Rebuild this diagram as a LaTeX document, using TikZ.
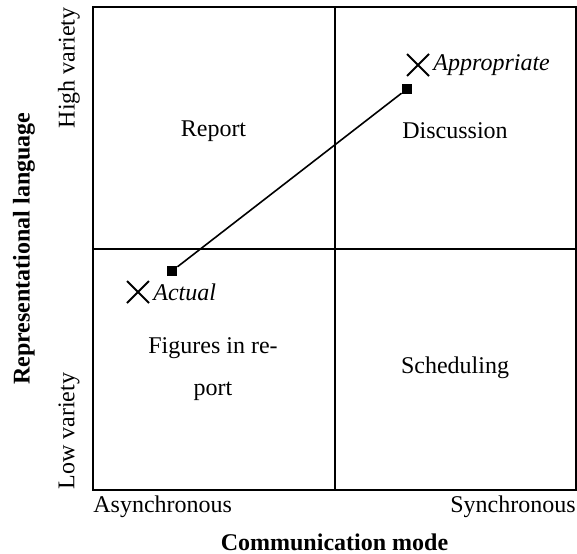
\documentclass[tikz,border=0pt]{standalone}
\usepackage{fontspec}
\setmainfont{Liberation Serif}
\usetikzlibrary{positioning, shapes.misc}

\begin{document}
\begin{tikzpicture}[
    x=0.5pt, y=0.5pt,
    every node/.style={font=\fontsize{12}{14}\selectfont},
    grid/.style={line width=1pt},
    quad/.style={align=center, font=\fontsize{12}{21}\selectfont},
    marker/.style={rectangle, fill=black, inner sep=0pt, minimum size=5pt},
    xmark/.style={cross out, draw=black, line width=1pt, inner sep=0pt, minimum size=10pt},
    tag/.style={font=\fontsize{12}{14}\selectfont\itshape, inner sep=1pt},
    axis/.style={font=\fontsize{12}{14}\selectfont\bfseries},
]
\useasboundingbox (0,0) rectangle (577,553);

% ---- Quadrant grid ----
\draw[grid] (93,63) rectangle (576,546);
\draw[grid] (334.5,63) -- (334.5,546);
\draw[grid] (93,304.5) -- (576,304.5);

% ---- Quadrant labels ----
\node[quad] (report) at (213.5,422) {Report};
\node[quad] (disc)   at (455,422)   {Discussion};
\node[quad] (figs)   at (213,184)   {Figures in re-\\port};
\node[quad] (sched)  at (455,185)   {Scheduling};

% ---- Actual / appropriate ----
\node[marker] (actsq) at (172,282) {};
\node[marker] (appsq) at (407,464) {};
\draw[line width=0.8pt] (actsq) -- (appsq);

\node[xmark] (actx) at (138,261) {};
\node[tag, right=1pt of actx] (actual) {Actual};
\node[xmark] (appx) at (418,488) {};
\node[tag, right=1pt of appx] (approp) {Appropriate};

% ---- Horizontal axis ----
\node[anchor=west, inner sep=0pt] (async) at (93,46) {Asynchronous};
\node[anchor=east, inner sep=0pt] (sync)  at (576,46) {Synchronous};
\node[axis] (xaxis) at (334.5,11) {Communication mode};

% ---- Vertical axis ----
\node[axis, rotate=90] (yaxis) at (24,304.5) {Representational language};
\node[rotate=90, anchor=east, inner sep=0pt] (high) at (69,546) {High variety};
\node[rotate=90, anchor=west, inner sep=0pt] (low)  at (69,63)  {Low variety};

\end{tikzpicture}
\end{document}
